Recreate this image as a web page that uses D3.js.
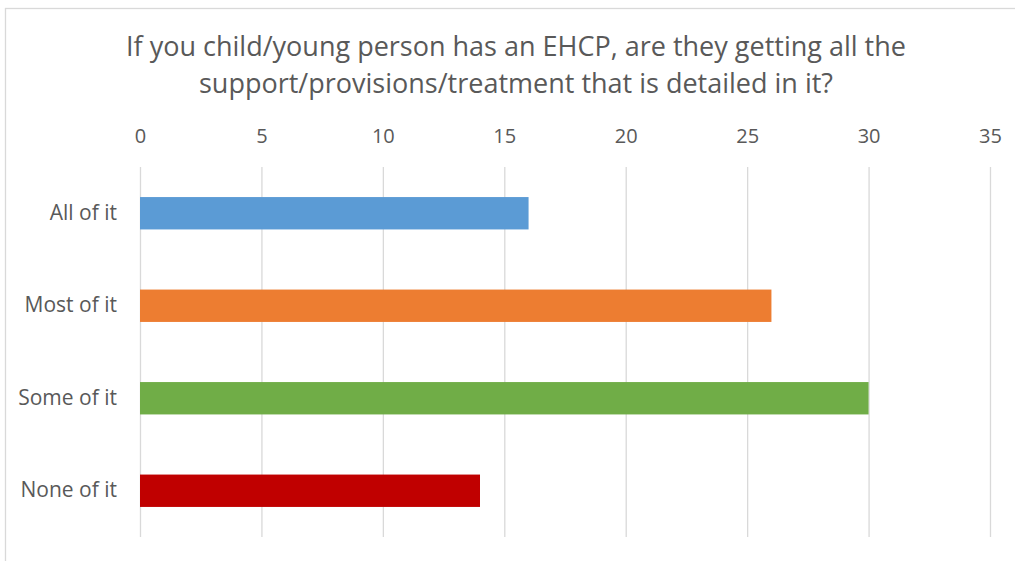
<html>
	<head>
		<script type="text/javascript" src="https://cdn.jsdelivr.net/npm/d3@7/dist/d3.min.js"></script>
		<style>
			body{ margin:0; background:#fff; }
			.grid line{ stroke:#d9d9d9; stroke-width:1.3; }
			.grid path{ display:none; }
			.xaxis path, .xaxis line{ display:none; }
			.yaxis path, .yaxis line{ display:none; }
		</style>
	</head>
	<body>
		<div id="container"></div>
		<script type="text/javascript">

			var categories = ["All of it", "Most of it", "Some of it", "None of it"];
			var values = [16, 26, 30, 14];
			var colors = ["#5b9bd5", "#ed7d31", "#70ad47", "#c00000"];
			var ticks = [0, 5, 10, 15, 20, 25, 30, 35];
			var titleLines = ["If you child/young person has an EHCP, are they getting all the",
				"support/provisions/treatment that is detailed in it?"];

			var font = "'Open Sans', 'Noto Sans', sans-serif";

			var svg = d3.select("#container")
				.append("svg")
					.attr("width", 1015)
					.attr("height", 561);

			// chart border
			svg.append("rect")
				.attr("x", 5.5).attr("y", 8.5)
				.attr("width", 1020).attr("height", 570)
				.attr("fill", "none")
				.attr("stroke", "#d9d9d9")
				.attr("stroke-width", 1.3);

			var x = d3.scaleLinear().domain([0, 35]).range([140, 990]);
			var y = d3.scaleBand().domain(categories).range([167, 537]).paddingInner(0.65).paddingOuter(0.325);

			svg.append("g")
				.attr("class", "grid")
				.attr("transform", "translate(0,537)")
				.call(d3.axisBottom(x).tickValues(ticks).tickSize(-370).tickFormat(""));

			svg.append("g")
				.attr("class", "xaxis")
				.attr("transform", "translate(0,143)")
				.call(d3.axisTop(x).tickValues(ticks).tickSize(0).tickPadding(0))
				.attr("font-size", 20)
				.attr("font-family", font)
				.selectAll("text").attr("fill", "#595959");

			svg.append("g")
				.attr("class", "yaxis")
				.attr("transform", "translate(117,0)")
				.call(d3.axisLeft(y).tickSize(0).tickPadding(0))
				.attr("font-size", 21)
				.attr("font-family", font)
				.selectAll("text").attr("fill", "#595959");

			svg.selectAll(".bar").data(values).enter().append("rect")
				.attr("class", "bar")
				.attr("x", x(0))
				.attr("y", function(d, i){ return y(categories[i]); })
				.attr("width", function(d){ return x(d) - x(0); })
				.attr("height", y.bandwidth())
				.attr("fill", function(d, i){ return colors[i]; });

			svg.selectAll(".title").data(titleLines).enter().append("text")
				.attr("class", "title")
				.attr("x", 516)
				.attr("y", function(d, i){ return 56 + i * 37; })
				.attr("text-anchor", "middle")
				.attr("font-family", font)
				.attr("font-size", 27)
				.attr("fill", "#595959")
				.text(function(d){ return d; });

		</script>
	</body>
</html>
